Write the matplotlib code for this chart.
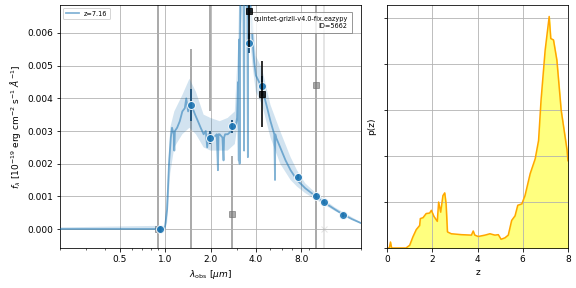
import numpy as np
import matplotlib
matplotlib.use("Agg")
import matplotlib.pyplot as plt

# best-fit template (observed wavelength in micron, flux)
model_wave = [0.20, 0.50, 0.90, 0.99, 1.00, 1.03, 1.06, 1.09,
              1.11, 1.14, 1.15, 1.16, 1.20, 1.25, 1.30, 1.35,
              1.38, 1.42, 1.46, 1.52, 1.58, 1.65, 1.72, 1.80,
              1.86, 1.90, 1.94, 2.00, 2.10, 2.20, 2.24, 2.26,
              2.30, 2.40, 2.44, 2.46, 2.50, 2.60, 2.75, 2.85,
              2.95, 3.00, 3.05, 3.08, 3.10, 3.12, 3.16, 3.20,
              3.30, 3.34, 3.36, 3.40, 3.50, 3.54, 3.56, 3.60,
              3.70, 3.80, 3.90, 4.00, 4.20, 4.40, 4.70, 5.00,
              5.30, 5.36, 5.38, 5.45, 5.80, 6.30, 6.80, 7.50,
              8.50, 10.0, 11.3, 13.4, 15.2, 17.4, 20.0]
model_flux = [0.0, 0.0, 0.0, 0.0, 0.0001, 0.0006, 0.0020, 0.0028,
              0.0031, 0.0029, 0.0024, 0.0030, 0.0031, 0.0033, 0.0036, 0.0037,
              0.0040, 0.0036, 0.0038, 0.0037, 0.0035, 0.0033, 0.0031, 0.0029,
              0.0030, 0.0025, 0.0029, 0.0029, 0.0028, 0.0029, 0.0018, 0.0029,
              0.0029, 0.0028, 0.0021, 0.0028, 0.0029, 0.0029, 0.0030, 0.0031,
              0.0032, 0.0034, 0.0045, 0.0021, 0.0058, 0.0020, 0.0074, 0.0080,
              0.0082, 0.0024, 0.0082, 0.0080, 0.0078, 0.0022, 0.0076, 0.0074,
              0.0067, 0.0058, 0.0051, 0.0047, 0.0045, 0.0043, 0.0038, 0.0033,
              0.0029, 0.0015, 0.0029, 0.0028, 0.0025, 0.0021, 0.0018, 0.0015,
              0.00125, 0.00100, 0.00082, 0.00060, 0.00044, 0.00030, 0.00018]

# template spread
band_wave = [0.20, 0.99, 1.03, 1.08, 1.15, 1.30, 1.45, 1.60, 1.80, 2.00,
             2.30, 2.60, 2.90, 3.05, 3.15, 3.30, 3.60, 3.80, 4.00, 4.40,
             5.00, 5.80, 6.80, 7.50, 8.50, 10.0, 13.4, 20.0]
band_lo = [0.0, 0.0, 0.0002, 0.0017, 0.0025, 0.0029, 0.0031, 0.0029, 0.0025, 0.0024,
           0.0024, 0.0024, 0.0026, 0.0033, 0.0060, 0.0072, 0.0062, 0.0050, 0.0042, 0.0038,
           0.0028, 0.0020, 0.0015, 0.0013, 0.0011, 0.0009, 0.00055, 0.00015]
band_hi = [0.00005, 0.0001, 0.0012, 0.0031, 0.0036, 0.0041, 0.0046, 0.0042, 0.0035, 0.0034,
           0.0033, 0.0034, 0.0036, 0.0056, 0.0085, 0.0090, 0.0085, 0.0066, 0.0053, 0.0049,
           0.0038, 0.0030, 0.0022, 0.0018, 0.0014, 0.0011, 0.00066, 0.0002]

# photometry used in the fit
phot_wave = [0.92, 1.48, 1.99, 2.78, 3.61, 4.40, 7.6, 10.0, 11.3, 15.1]
phot_flux = [0.0, 0.0038, 0.0028, 0.00315, 0.0057, 0.00437, 0.0016, 0.00102, 0.00083, 0.00043]
phot_err = [0.00008, 0.0005, 0.0002, 0.0002, 0.0003, 0.0003, 0.00008, 0.00008, 0.00006, 0.00005]

# model photometry
mod_wave = [3.61, 4.40]
mod_flux = [0.00667, 0.00413]
mod_err = [0.0011, 0.0010]

# low s/n bands
gray_wave = [0.90, 1.48, 1.99, 2.78, 10.0]
gray_flux = [0.0, -0.003, 0.0095, 0.00045, 0.0044]
gray_err = [0.01, 0.0085, 0.0059, 0.0018, 0.01]
bad_wave = [11.3]
bad_flux = [0.0]
bad_err = [0.01]

# redshift probability
pz_z = [0.0, 0.10, 0.15, 0.20, 0.84, 1.00, 1.14, 1.29, 1.44, 1.47,
        1.59, 1.73, 1.88, 1.96, 2.07, 2.22, 2.28, 2.37, 2.47, 2.55,
        2.61, 2.67, 2.84, 3.29, 3.73, 3.81, 3.88, 4.03, 4.33, 4.55,
        4.77, 4.92, 5.04, 5.21, 5.36, 5.51, 5.66, 5.78, 5.96, 6.10,
        6.33, 6.55, 6.70, 6.81, 6.99, 7.17, 7.24, 7.36, 7.51, 7.70,
        7.96, 8.0]
pz_p = [0.0, 0.0, 0.013, 0.0, 0.0, 0.006, 0.024, 0.040, 0.049, 0.064,
        0.066, 0.075, 0.076, 0.082, 0.069, 0.058, 0.100, 0.078, 0.114, 0.120,
        0.096, 0.035, 0.031, 0.029, 0.028, 0.037, 0.028, 0.025, 0.028, 0.031,
        0.028, 0.029, 0.019, 0.022, 0.028, 0.060, 0.070, 0.093, 0.096, 0.114,
        0.162, 0.194, 0.234, 0.322, 0.430, 0.504, 0.456, 0.453, 0.409, 0.300,
        0.213, 0.190]

plt.rcParams['font.size'] = 9
fig = plt.figure(figsize=(8, 4), dpi=72)
ax = fig.add_axes([0.104, 0.139, 0.523, 0.844])
axz = fig.add_axes([0.672, 0.139, 0.314, 0.844])

ax.fill_between(band_wave, band_lo, band_hi, color='tab:blue', alpha=0.2, lw=0, zorder=2)
ax.plot(model_wave, model_flux, color='tab:blue', alpha=0.55, lw=1.8, label='z=7.16', zorder=3)

ax.errorbar(gray_wave, gray_flux, gray_err, marker='s', ms=6, color='0.45', alpha=0.6,
            lw=2, ls='none', zorder=1)
ax.errorbar(bad_wave, bad_flux, bad_err, marker='x', ms=6, color='0.5', alpha=0.2,
            lw=2, ls='none', zorder=1)
ax.errorbar(phot_wave, phot_flux, phot_err, marker='o', ms=8, color='tab:blue', mec='w',
            mew=1, ecolor='#1b4f78', lw=2, ls='none', alpha=0.9, zorder=4)
ax.errorbar(mod_wave, mod_flux, mod_err, marker='s', ms=6, color='k', lw=2, alpha=0.8,
            ls='none', zorder=5)

ax.set_xscale('log')
ax.set_xlim(0.2, 20)
ax.set_ylim(-0.00058, 0.00686)
ax.set_xticks([0.5, 1, 2, 4, 8])
ax.set_xticklabels(['0.5', '1.0', '2.0', '4.0', '8.0'])
ax.xaxis.set_minor_formatter(plt.NullFormatter())
ax.grid()
ax.set_xlabel(r'$\lambda_\mathrm{obs}\ [\mu m]$')
ax.set_ylabel(r'$f_\lambda\ [10^{-19}\ \mathrm{erg\ cm}^{-2}\ \mathrm{s}^{-1}\ \AA^{-1}]$')
ax.legend(loc='upper left', fontsize=6.5)
ax.text(0.955, 0.955, 'quintet-grizli-v4.0-fix.eazypy\nID=5662', ha='right', va='top',
        fontsize=6.5, transform=ax.transAxes,
        bbox=dict(facecolor='w', edgecolor='0.5', alpha=0.8))

axz.plot(pz_z, pz_p, color='orange', lw=1.5)
axz.fill_between(pz_z, 0, pz_p, color='yellow', alpha=0.5)
axz.set_xlim(0, 8)
axz.set_ylim(0, max(pz_p) * 1.05)
axz.set_xticks([0, 2, 4, 6, 8])
axz.set_yticks([0, 0.1, 0.2, 0.3, 0.4, 0.5])
axz.set_yticklabels([])
axz.grid()
axz.set_xlabel('z')
axz.set_ylabel('p(z)')

plt.savefig('out.png')
